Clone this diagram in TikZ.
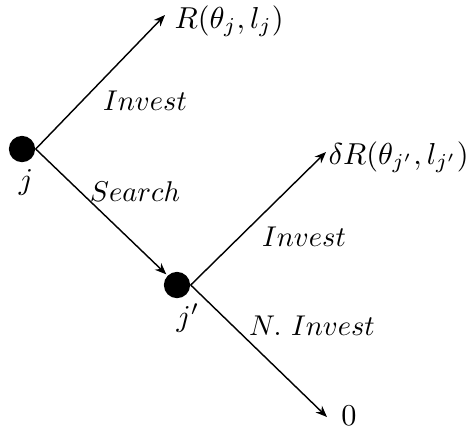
\documentclass[tikz,border=0pt]{standalone}
\usetikzlibrary{arrows.meta}
\begin{document}
\begin{tikzpicture}[x=0.35pt,y=-0.35pt,
  dot/.style={circle,fill=black,inner sep=0pt,minimum size=9.2pt},
  arr/.style={-{Stealth[length=4pt,width=3.2pt]},line width=0.5pt},
  lbl/.style={inner sep=0pt},
  pay/.style={inner sep=0pt,scale=1.06}]
\useasboundingbox (0,0) rectangle (468,434);
\node[dot] (j) at (22,149) {};
\node[dot] (jp) at (177,285) {};
\coordinate (t1) at (165,15);
\coordinate (t2) at (326,152);
\coordinate (t3) at (327,417);
\node[pay,anchor=west] (R1) at (174,21) {$R(\theta_j,l_j)$};
\node[pay,anchor=west] (R2) at (328,157) {$\delta R(\theta_{j'},l_{j'})$};
\node[pay] (zero) at (349,416) {$0$};
\node[pay] (lj) at (26,182) {$j$};
\node[pay] (ljp) at (188,318) {$j'$};
\node[lbl] (inv1) at (145,101) {$Invest$};
\node[lbl] (srch) at (135,192) {$Search$};
\node[lbl] (inv2) at (304,237) {$Invest$};
\node[lbl] (ninv) at (312,326) {$N.\ Invest$};
\draw[arr] (j.east) -- (t1);
\draw[arr,shorten >=0.5pt] (j.east) -- (jp.north west);
\draw[arr] (jp.east) -- (t2);
\draw[arr] (jp.east) -- (t3);
\end{tikzpicture}
\end{document}
